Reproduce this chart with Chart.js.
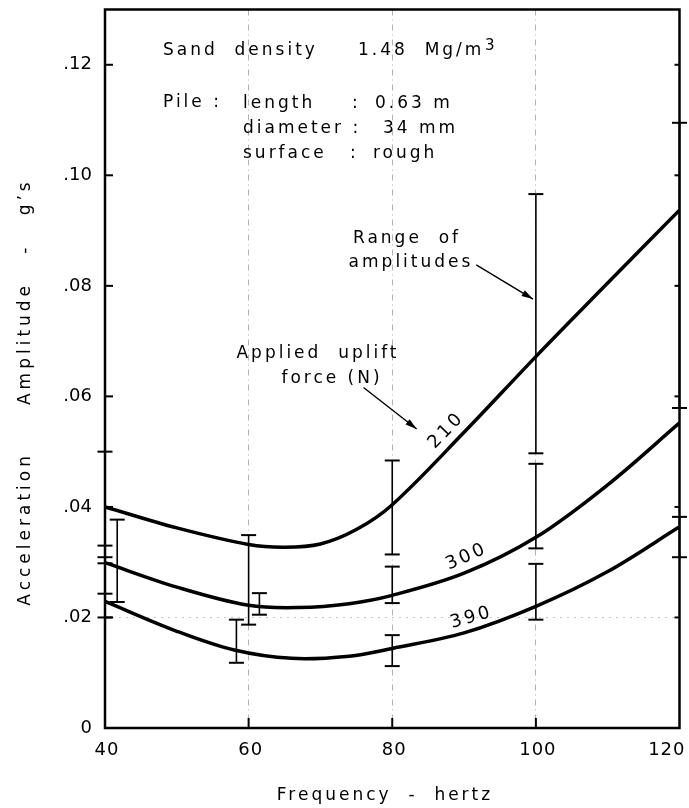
<!DOCTYPE html>
<html>
<head>
<meta charset="utf-8">
<script src="https://cdn.jsdelivr.net/npm/chart.js@4.4.0/dist/chart.umd.min.js"></script>
<style>
  html, body { margin: 0; padding: 0; background: #fff; }
</style>
</head>
<body>
<canvas id="chart" width="689" height="808"></canvas>
<script>
// axis ticks
const xTicks = [40, 60, 80, 100, 120];
const xTickLabels = ['40', '60', '80', '100', '120'];
const yTicks = [0, 0.02, 0.04, 0.06, 0.08, 0.10, 0.12];
const yTickLabels = ['0', '.02', '.04', '.06', '.08', '.10', '.12'];

// mean curves, one per uplift force (N)
const freq210 = [40, 50, 60, 65, 70, 75, 80, 90, 100, 110, 120];
const amp210 = [0.0400, 0.0362, 0.0332, 0.0327, 0.0333, 0.0359, 0.0404, 0.0535, 0.0672, 0.0805, 0.0937];
const freq300 = [40, 50, 60, 67, 74, 80, 90, 100, 110, 120];
const amp300 = [0.0299, 0.0255, 0.0222, 0.0218, 0.0225, 0.0240, 0.0280, 0.0345, 0.0440, 0.0552];
const freq390 = [40, 50, 58, 66, 74, 80, 90, 100, 110, 120];
const amp390 = [0.0229, 0.0175, 0.0141, 0.0126, 0.0130, 0.0144, 0.0172, 0.0220, 0.0283, 0.0364];

// range of amplitudes (vertical bars)
const rangeFreq = [40, 60, 80, 100, 120, 40, 41.7, 61.5, 80, 100, 40, 58.3, 80, 100, 120];
const rangeLow  = [0.0330, 0.0187, 0.0314, 0.0497, 0.0579, 0.0298, 0.0228, 0.0205, 0.0226, 0.0325, 0.0200, 0.0118, 0.0112, 0.0196, 0.0309];
const rangeHigh = [0.0500, 0.0349, 0.0484, 0.0966, 0.1095, 0.0309, 0.0377, 0.0244, 0.0292, 0.0478, 0.0243, 0.0196, 0.0168, 0.0297, 0.0382];

function pts(xs, ys) {
    return xs.map((v, i) => ({ x: v, y: ys[i] }));
}

var rangePts = [];
rangeFreq.forEach((f, i) => {
    rangePts.push({ x: f, y: rangeLow[i] });
    rangePts.push({ x: f, y: rangeHigh[i] });
    rangePts.push({ x: f, y: null });
});

const FONT = "'DejaVu Sans', sans-serif";

function curve(data) {
    return {
        data: data,
        borderColor: '#000',
        borderWidth: 3.5,
        pointRadius: 0,
        tension: 0.35,
        fill: false
    };
}

const paperPlugin = {
    id: 'paper',
    afterDraw(chart) {
        const ctx = chart.ctx;
        const a = chart.chartArea;
        const x = chart.scales.x, y = chart.scales.y;
        const X = v => x.getPixelForValue(v), Y = v => y.getPixelForValue(v);

        function seg(x1, y1, x2, y2) {
            ctx.beginPath(); ctx.moveTo(x1, y1); ctx.lineTo(x2, y2); ctx.stroke();
        }
        function arrow(f1, v1, f2, v2) {
            const x1 = X(f1), y1 = Y(v1), x2 = X(f2), y2 = Y(v2);
            ctx.lineWidth = 1.4;
            seg(x1, y1, x2, y2);
            const ang = Math.atan2(y2 - y1, x2 - x1);
            ctx.beginPath();
            ctx.moveTo(x2, y2);
            ctx.lineTo(x2 - 12 * Math.cos(ang - 0.28), y2 - 12 * Math.sin(ang - 0.28));
            ctx.lineTo(x2 - 12 * Math.cos(ang + 0.28), y2 - 12 * Math.sin(ang + 0.28));
            ctx.closePath();
            ctx.fill();
        }
        function text(s, px, py, align, size, spacing) {
            ctx.font = (size || 17) + 'px ' + FONT;
            ctx.letterSpacing = (spacing === undefined ? 3 : spacing) + 'px';
            ctx.textAlign = align || 'left';
            ctx.textBaseline = 'alphabetic';
            ctx.fillText(s, px, py);
        }

        ctx.save();
        ctx.strokeStyle = '#000';
        ctx.fillStyle = '#000';

        // frame
        ctx.lineWidth = 2.5;
        ctx.strokeRect(a.left, a.top, a.right - a.left, a.bottom - a.top);

        // inward ticks
        ctx.lineWidth = 2;
        yTicks.forEach(v => {
            seg(a.left, Y(v), a.left + 8, Y(v));
            seg(a.right, Y(v), a.right - 5, Y(v));
        });
        xTicks.slice(1, -1).forEach(v => seg(X(v), a.bottom, X(v), a.bottom - 10));

        // x tick labels
        xTicks.forEach((v, i) => {
            const last = i === xTicks.length - 1;
            text(xTickLabels[i], last ? a.right + 6 : X(v) + 2, 755, last ? 'right' : 'center', 18, 1);
        });

        // axis titles
        text('Frequency  -  hertz', 385, 800, 'center', 17, 3);
        ctx.save();
        ctx.translate(24, 392);
        ctx.rotate(-Math.PI / 2);
        text('Acceleration     Amplitude   -   g\u2019s', 0, 6, 'center', 17, 4);
        ctx.restore();

        // test conditions
        text('Sand  density', 163, 55);
        text('1.48  Mg/m', 358, 55);
        text('3', 485, 50, 'left', 15, 0);
        text('Pile :', 163, 107);
        text('length', 243, 108);
        text(':', 352, 108);
        text('0.63 m', 375, 108);
        text('diameter :', 243, 133);
        text('34 mm', 383, 133);
        text('surface', 243, 158);
        text(':', 350, 158);
        text('rough', 373, 158);

        // notes
        text('Range  of', 407, 243, 'center');
        text('amplitudes', 411, 267, 'center');
        arrow(91.7, 0.0838, 99.6, 0.0776);
        text('Applied  uplift', 318, 358, 'center');
        text('force (N)', 332, 383, 'center');
        arrow(76.0, 0.0616, 83.4, 0.0541);

        // curve labels, rotated along the curves
        function curveLabel(s, f, v, deg) {
            ctx.save();
            ctx.translate(X(f), Y(v));
            ctx.rotate(deg * Math.PI / 180);
            text(s, 0, 6, 'center', 18, 3);
            ctx.restore();
        }
        curveLabel('210', 87.4, 0.0540, -46);
        curveLabel('300', 90.3, 0.0312, -24);
        curveLabel('390', 91.0, 0.0202, -16);

        ctx.restore();
    }
};

var ctx = document.getElementById('chart').getContext('2d');
var myChart = new Chart(ctx, {
    type: 'line',
    data: {
        datasets: [
            curve(pts(freq210, amp210)),
            curve(pts(freq300, amp300)),
            curve(pts(freq390, amp390)),
            {
                data: rangePts,
                borderColor: '#000',
                borderWidth: 1.6,
                tension: 0,
                spanGaps: false,
                clip: false,
                pointStyle: 'line',
                pointRadius: 7.5,
                pointBorderWidth: 2,
                pointBorderColor: '#000',
                pointHoverRadius: 7.5,
                fill: false
            }
        ]
    },
    options: {
        responsive: false,
        animation: false,
        events: [],
        layout: { padding: { left: 0, right: 7, top: 8, bottom: 0 } },
        scales: {
            x: {
                type: 'linear',
                min: 40,
                max: 120,
                ticks: { stepSize: 20, display: false },
                afterFit: s => { s.height = 80; s.paddingLeft = 0; s.paddingRight = 0; },
                grid: {
                    drawTicks: false,
                    color: c => [60, 80, 100].includes(c.tick && c.tick.value) ? 'rgba(0,0,0,0.3)' : 'rgba(0,0,0,0)',
                    lineWidth: 1
                },
                border: { display: false, dash: [6, 4, 1, 4] }
            },
            y: {
                min: 0,
                max: 0.13,
                afterBuildTicks: s => { s.ticks = yTicks.map(v => ({ value: v })); },
                afterFit: s => { s.width = 105; s.paddingTop = 0; s.paddingBottom = 0; },
                ticks: {
                    padding: 13,
                    color: '#000',
                    font: { size: 18, family: FONT },
                    callback: v => yTickLabels[yTicks.findIndex(t => Math.abs(t - v) < 1e-6)]
                },
                border: { display: false, dash: [2, 5] },
                grid: {
                    drawTicks: false,
                    color: c => (c.tick && Math.abs(c.tick.value - 0.02) < 1e-6) ? 'rgba(0,0,0,0.22)' : 'rgba(0,0,0,0)',
                    lineWidth: 1
                }
            }
        },
        plugins: {
            legend: { display: false },
            tooltip: { enabled: false }
        }
    },
    plugins: [paperPlugin]
});
</script>
</body>
</html>
